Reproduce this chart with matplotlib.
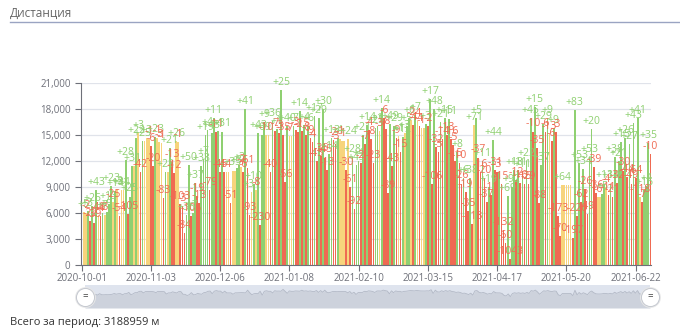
import numpy as np
import pandas as pd
import matplotlib
matplotlib.use("Agg")
import matplotlib.pyplot as plt
from matplotlib.lines import Line2D
from matplotlib.ticker import FuncFormatter

plt.rcParams['font.family'] = ['Open Sans', 'DejaVu Sans']

# daily distance in metres, 2020-10-01 .. 2021-06-29
distance = [
    5800, 6100, 6000, 6200, 5100, 6800, 4900, 8600, 5800, 5600,
    6000, 5800, 6100, 7000, 9100, 7300, 8500, 8800, 5700, 8600,
    8700, 12100, 5900, 7900, 11400, 11400, 14700, 15200, 10700, 14300,
    14300, 14700, 14500, 13700, 11400, 14800, 14600, 14200, 14100, 7700,
    10700, 10700, 13500, 11900, 10600, 14300, 14200, 7000, 6800, 3700,
    5800, 11500, 5600, 6000, 9500, 8000, 7100, 11400, 12200, 15000,
    15600, 8700, 15200, 17000, 15300, 15500, 10700, 15400, 10700, 10700,
    10700, 7100, 10900, 10900, 11200, 11500, 11300, 10700, 18000, 11200,
    5800, 8400, 9300, 8600, 15200, 4600, 15000, 16500, 15000, 15000,
    10700, 16600, 15500, 15700, 15200, 20200, 15000, 9600, 16000, 14900,
    14900, 16000, 15600, 15300, 17800, 15500, 16200, 15000, 16000, 14700,
    14200, 17200, 12000, 17000, 12600, 18000, 12400, 11000, 12800, 14700,
    14400, 14000, 14600, 14500, 14300, 14300, 11000, 14500, 9000, 12500,
    6500, 11500, 12000, 11800, 15000, 14000, 16200, 15600, 14500, 11800,
    15800, 16000, 15500, 18100, 17000, 15700, 8300, 16300, 11400, 16000,
    14700, 14900, 13000, 14800, 15200, 16000, 17000, 16700, 16100, 17300,
    16600, 16000, 15800, 15800, 16300, 16000, 19200, 9300, 18000, 13600,
    13000, 16500, 14500, 17000, 15000, 16800, 14500, 13800, 12000, 13000,
    11800, 9400, 10000, 8400, 6200, 10000, 4700, 16200, 17000, 12400,
    10700, 12000, 10000, 7300, 9000, 8100, 14400, 11000, 10700, 10700,
    9300, 4000, 2500, 8000, 700, 9000, 11000, 9800, 11000, 9500,
    10700, 9300, 12000, 9300, 17000, 15400, 18200, 13500, 7200, 11500,
    16300, 15400, 17000, 15100, 14300, 15800, 15300, 5600, 3300, 9200,
    9200, 9200, 9200, 9200, 3100, 17900, 5600, 11800, 7300, 11100,
    8800, 5900, 12500, 15700, 11300, 8300, 7800, 7800, 8200, 9400,
    9000, 8100, 9400, 7800, 12500, 9500, 12000, 14200, 10900, 14700,
    10200, 14000, 9400, 16400, 10000, 17000, 7800, 7300, 8700, 9100,
    14100, 12800,
]

# days filled in (no track recorded) -> drawn yellow
filled = [
    1, 1, 1, 0, 0, 0, 0, 0, 1, 0,
    0, 1, 0, 0, 0, 1, 0, 1, 0, 1,
    1, 0, 0, 0, 0, 1, 0, 1, 0, 0,
    1, 1, 1, 0, 0, 0, 1, 1, 1, 0,
    0, 1, 0, 0, 0, 1, 1, 0, 0, 0,
    0, 0, 0, 0, 0, 0, 0, 0, 0, 0,
    0, 0, 0, 0, 0, 0, 0, 0, 0, 1,
    1, 0, 1, 1, 0, 0, 1, 0, 0, 0,
    0, 1, 0, 1, 0, 0, 0, 0, 1, 1,
    0, 0, 0, 0, 0, 0, 0, 0, 0, 1,
    1, 0, 0, 0, 0, 0, 0, 0, 0, 0,
    0, 0, 0, 0, 0, 0, 0, 0, 0, 0,
    0, 0, 0, 1, 1, 1, 0, 1, 0, 0,
    0, 0, 0, 0, 0, 0, 0, 0, 0, 0,
    0, 0, 1, 0, 0, 0, 0, 0, 0, 0,
    0, 1, 0, 0, 1, 0, 0, 1, 0, 0,
    1, 0, 1, 1, 0, 0, 0, 0, 0, 0,
    0, 0, 0, 0, 0, 0, 0, 0, 0, 0,
    0, 0, 0, 0, 0, 0, 0, 1, 0, 0,
    0, 0, 0, 0, 0, 0, 0, 0, 0, 0,
    0, 0, 0, 0, 0, 0, 0, 0, 0, 0,
    0, 0, 0, 0, 0, 0, 0, 0, 0, 0,
    0, 0, 0, 1, 0, 0, 0, 0, 0, 1,
    1, 1, 1, 1, 0, 0, 0, 0, 0, 0,
    0, 0, 0, 0, 0, 0, 1, 1, 0, 0,
    1, 0, 0, 0, 0, 0, 0, 0, 0, 0,
    0, 0, 0, 0, 0, 0, 1, 0, 0, 0,
    0, 0,
]

total_m = 3188959
dates = pd.date_range('2020-10-01', periods=len(distance), freq='D')
date_labels = [d.strftime('%Y-%m-%d') for d in dates]

GREEN = '#8fd071'
RED = '#ef6a52'
YELLOW = '#f7d47c'
AXIS = '#6E7079'

dist = np.array(distance, dtype=float)
n = len(dist)
x = np.arange(n)

# change vs previous day, relative to the current day
change = np.zeros(n)
change[1:] = (dist[1:] - dist[:-1]) / dist[1:] * 100

colors = []
for i in range(n):
    if filled[i]:
        colors.append(YELLOW)
    elif change[i] >= 0:
        colors.append(GREEN)
    else:
        colors.append(RED)

fig = plt.figure(figsize=(6.8, 3.31), dpi=100)
ax = fig.add_axes([81/680, 66/331, 570/680, 182/331])

ax.bar(x, dist, width=0.8, color=colors, zorder=2)

for i in range(1, n):
    val = int(round(change[i]))
    if val == 0:
        continue
    ax.annotate('%+d' % val, (i, dist[i]), xytext=(0, 1.5), textcoords='offset points',
                ha='center', va='bottom', fontsize=7.5,
                color=GREEN if val > 0 else RED, zorder=3)

ax.set_ylim(0, 21000)
ax.set_xlim(-0.3, n - 0.7)
ax.set_yticks(range(0, 21001, 3000))
ax.yaxis.set_major_formatter(FuncFormatter(lambda v, p: '{:,}'.format(int(v))))
tick_idx = list(range(0, n, 33))
ax.set_xticks(tick_idx)
ax.set_xticklabels([date_labels[i] for i in tick_idx])
ax.tick_params(axis='both', colors=AXIS, labelcolor=AXIS, labelsize=7, length=4, width=0.8)
ax.tick_params(axis='x', pad=2)
ax.grid(axis='y', color='#E0E3EA', lw=0.9, zorder=0)
ax.set_axisbelow(True)
for s in ['top', 'right']:
    ax.spines[s].set_visible(False)
ax.spines['left'].set_color(AXIS)
ax.spines['bottom'].set_color(AXIS)
ax.spines['left'].set_linewidth(0.8)
ax.spines['bottom'].set_linewidth(0.8)

# title with rule underneath
fig.text(10/680, 1 - 13/331, 'Дистанция', va='center', ha='left', fontsize=8.5, color='#666666')
fig.add_artist(Line2D([10/680, 1], [1 - 22/331] * 2, color='#9aa4c2', lw=1))

# zoom slider with data shadow
sax = fig.add_axes([85/680, (331 - 308)/331, (650 - 85)/680, 23/331])
sax.set_facecolor('#dfe4ee')
sax.fill_between(x, dist, -30000, color='#cdd2dc', lw=0)
sax.plot(x, dist, color='#b3b9c6', lw=0.6)
sax.set_xlim(0, n - 1)
sax.set_ylim(-30000, 32000)
sax.set_xticks([])
sax.set_yticks([])
for s in sax.spines.values():
    s.set_visible(False)
for hx in [0, 1]:
    sax.plot(hx, 0.5, 'o', ms=15, mfc='#e8e8e8', mec='none',
             transform=sax.transAxes, clip_on=False, zorder=4)
    sax.plot(hx, 0.5, 'o', ms=13, mfc='white', mec='#c4c8d0', mew=0.7,
             transform=sax.transAxes, clip_on=False, zorder=5)
    sax.text(hx, 0.5, '=', transform=sax.transAxes, ha='center', va='center',
             fontsize=7, color='#444444', zorder=6, clip_on=False)

fig.text(10/680, 1 - 322/331, 'Всего за период: %d м' % total_m, va='center', ha='left',
         fontsize=8, color='#333333')

fig.savefig('out.png', dpi=100)
